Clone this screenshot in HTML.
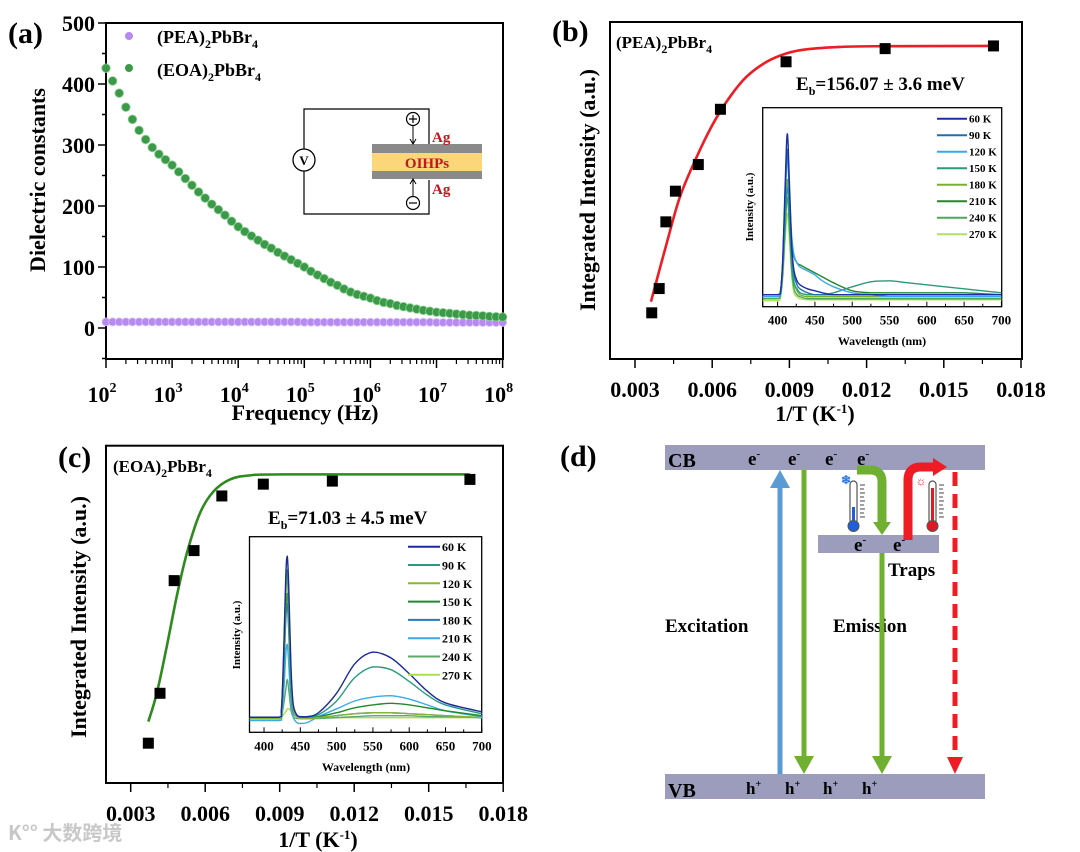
<!DOCTYPE html>
<html><head><meta charset="utf-8"><style>
html,body{margin:0;padding:0;background:#fff;}
svg{display:block;font-family:"Liberation Serif","Noto Serif CJK SC",serif;font-weight:bold;}
</style></head><body>
<svg id="fig" width="1080" height="852" viewBox="0 0 1080 852" xmlns="http://www.w3.org/2000/svg">
<!-- Panel a static -->
<g>
<text x="8" y="43" font-size="30">(a)</text>
<rect x="106" y="23" width="397" height="336" fill="none" stroke="#000" stroke-width="2"/>
<g id="aTicks"></g>
<text transform="translate(45,180) rotate(-90)" text-anchor="middle" font-size="22">Dielectric constants</text>
<text x="305" y="420" text-anchor="middle" font-size="22">Frequency (Hz)</text>
<g>
<circle cx="129" cy="36" r="4" fill="#b68af0"/>
<text x="157" y="43" font-size="18">(PEA)<tspan dy="5" font-size="12">2</tspan><tspan dy="-5">PbBr</tspan><tspan dy="5" font-size="12">4</tspan></text>
<circle cx="129" cy="68" r="4" fill="#3a9a48"/>
<text x="157" y="76" font-size="18">(EOA)<tspan dy="5" font-size="12">2</tspan><tspan dy="-5">PbBr</tspan><tspan dy="5" font-size="12">4</tspan></text>
</g>
<g>
<path d="M413,109 H304 V214 H429 V180 M429,148 V109 H413" fill="none" stroke="#000" stroke-width="1.2"/>
<circle cx="304" cy="160" r="11" fill="#fff" stroke="#000" stroke-width="1.3"/>
<text x="304" y="165" text-anchor="middle" font-size="13">V</text>
<rect x="372" y="144" width="110" height="9" fill="#8a8a8a"/>
<rect x="372" y="153" width="110" height="18" fill="#fbd67a"/>
<rect x="372" y="171" width="110" height="8" fill="#8a8a8a"/>
<text x="427" y="168" text-anchor="middle" font-size="15" fill="#c0161c">OIHPs</text>
<text x="432" y="142" font-size="15" fill="#c0161c">Ag</text>
<text x="432" y="194" font-size="15" fill="#c0161c">Ag</text>
<circle cx="413" cy="119" r="6.5" fill="#fff" stroke="#000" stroke-width="1.2"/>
<path d="M409,119 H417 M413,115 V123" stroke="#000" stroke-width="1.2"/>
<circle cx="413" cy="203" r="6.5" fill="#fff" stroke="#000" stroke-width="1.2"/>
<path d="M409,203 H417" stroke="#000" stroke-width="1.2"/>
<path d="M413,126 V143 M410,139 L413,144 L416,139 M413,196 V180 M410,184 L413,179 L416,184" fill="none" stroke="#000" stroke-width="1"/>
</g>
<g id="aMarks"></g>
</g>

<!-- Panel b static -->
<g>
<text x="552" y="41" font-size="30">(b)</text>
<rect x="610" y="22" width="412" height="337" fill="none" stroke="#000" stroke-width="2"/>
<g id="bTicks"></g>
<text transform="translate(595,190) rotate(-90)" text-anchor="middle" font-size="22">Integrated  Intensity (a.u.)</text>
<text x="815" y="421" text-anchor="middle" font-size="22">1/T (K<tspan dy="-8" font-size="13">-1</tspan><tspan dy="8">)</tspan></text>
<text x="616" y="48" font-size="17">(PEA)<tspan dy="5" font-size="12">2</tspan><tspan dy="-5">PbBr</tspan><tspan dy="5" font-size="12">4</tspan></text>
<text x="796" y="90" font-size="19">E<tspan dy="5" font-size="12">b</tspan><tspan dy="-5">=156.07 ± 3.6 meV</tspan></text>
<rect x="762.7" y="107.7" width="239" height="199" fill="#fff" stroke="#000" stroke-width="1.3"/>
<g id="biTicks"></g>
<text transform="translate(753,207) rotate(-90)" text-anchor="middle" font-size="11">Intensity (a.u.)</text>
<text x="882" y="345" text-anchor="middle" font-size="12">Wavelength (nm)</text>
<g id="bMarks"></g>
</g>

<!-- Panel c static -->
<g>
<text x="58" y="467" font-size="30">(c)</text>
<rect x="106" y="445.7" width="397" height="337.3" fill="none" stroke="#000" stroke-width="2"/>
<g id="cTicks"></g>
<text transform="translate(86,617) rotate(-90)" text-anchor="middle" font-size="22">Integrated  Intensity (a.u.)</text>
<text x="318" y="847" text-anchor="middle" font-size="22">1/T (K<tspan dy="-8" font-size="13">-1</tspan><tspan dy="8">)</tspan></text>
<text x="113" y="472" font-size="17">(EOA)<tspan dy="5" font-size="12">2</tspan><tspan dy="-5">PbBr</tspan><tspan dy="5" font-size="12">4</tspan></text>
<text x="268" y="524" font-size="19">E<tspan dy="5" font-size="12">b</tspan><tspan dy="-5">=71.03 ± 4.5 meV</tspan></text>
<rect x="249.5" y="536.7" width="232.2" height="195.6" fill="#fff" stroke="#000" stroke-width="1.3"/>
<g id="ciTicks"></g>
<text transform="translate(240,635) rotate(-90)" text-anchor="middle" font-size="11">Intensity (a.u.)</text>
<text x="366" y="771" text-anchor="middle" font-size="12">Wavelength (nm)</text>
<g id="cMarks"></g>
</g>

<!-- Panel d -->
<g>
<text x="560" y="466" font-size="30">(d)</text>
<rect x="665" y="445" width="320" height="25" fill="#9c9cbc"/>
<rect x="665" y="774" width="320" height="25" fill="#9c9cbc"/>
<rect x="818" y="535" width="121" height="18" fill="#9c9cbc"/>
<text x="668" y="467" font-size="20">CB</text>
<text x="668" y="797" font-size="20">VB</text>
<g font-size="19">
<text x="748" y="465">e<tspan dy="-8" font-size="11">-</tspan></text>
<text x="788" y="465">e<tspan dy="-8" font-size="11">-</tspan></text>
<text x="825" y="465">e<tspan dy="-8" font-size="11">-</tspan></text>
<text x="857" y="465">e<tspan dy="-8" font-size="11">-</tspan></text>
<text x="854" y="551">e<tspan dy="-8" font-size="11">-</tspan></text>
<text x="893" y="551">e<tspan dy="-8" font-size="11">-</tspan></text>
</g>
<g font-size="17">
<text x="746" y="794">h<tspan dy="-7" font-size="10">+</tspan></text>
<text x="785" y="794">h<tspan dy="-7" font-size="10">+</tspan></text>
<text x="823" y="794">h<tspan dy="-7" font-size="10">+</tspan></text>
<text x="862" y="794">h<tspan dy="-7" font-size="10">+</tspan></text>
</g>
<text x="888" y="576" font-size="19">Traps</text>
<text x="665" y="632" font-size="19">Excitation</text>
<text x="833" y="632" font-size="19">Emission</text>
<g>
<rect x="777.5" y="486" width="5" height="288" fill="#5b9bd5"/>
<polygon points="770,488 780,470 790,488" fill="#5b9bd5"/>
</g>
<g>
<rect x="801.5" y="470" width="5" height="290" fill="#70b030"/>
<polygon points="794,756 804,774 814,756" fill="#70b030"/>
</g>
<g>
<rect x="879.5" y="553" width="5" height="207" fill="#70b030"/>
<polygon points="872,756 882,774 892,756" fill="#70b030"/>
<path d="M857,470 H870 Q882,470 882,482 V524" fill="none" stroke="#70b030" stroke-width="9"/>
<polygon points="873,522 882,535 891,522" fill="#70b030"/>
</g>
<g>
<path d="M908,540 V480 Q908,467 921,467 H935" fill="none" stroke="#ee1c24" stroke-width="9"/>
<polygon points="933,458 947,467 933,476" fill="#ee1c24"/>
</g>
<g>
<line x1="955" y1="472" x2="955" y2="760" stroke="#ee1c24" stroke-width="5" stroke-dasharray="14,8"/>
<polygon points="947,757 955,774 963,757" fill="#ee1c24"/>
</g>
<g>
<rect x="850" y="481" width="7" height="43" rx="3.5" fill="#fff" stroke="#555" stroke-width="1.2"/>
<rect x="852" y="507" width="3" height="18" fill="#1f5fd8"/>
<circle cx="853.5" cy="526" r="5.5" fill="#1f5fd8" stroke="#555" stroke-width="1"/>
<path d="M860,485h5M860,489h4M860,493h5M860,497h4M860,501h5M860,505h4M860,509h5M860,513h4M860,517h5" stroke="#444" stroke-width="1"/>
<text x="846" y="484" text-anchor="middle" font-size="12" fill="#2a7ae0">❄</text>
</g>
<g>
<rect x="929" y="481" width="7" height="43" rx="3.5" fill="#fff" stroke="#555" stroke-width="1.2"/>
<rect x="931" y="488" width="3" height="37" fill="#e01a22"/>
<circle cx="932.5" cy="526" r="5.5" fill="#e01a22" stroke="#555" stroke-width="1"/>
<path d="M939,485h5M939,489h4M939,493h5M939,497h4M939,501h5M939,505h4M939,509h5M939,513h4M939,517h5" stroke="#444" stroke-width="1"/>
<text x="921" y="485" text-anchor="middle" font-size="12" fill="#e01a22">☼</text>
</g>
</g>
<text x="8" y="840" font-size="20" fill="#c8c8c8" font-family="Noto Sans CJK SC, sans-serif">K°° 大数跨境</text>
</svg>
<script>
// ---------- Panel a data ----------
const aLogFreq = [];
for (let i = 0; i <= 60; i++) aLogFreq.push(2 + i * 0.1);
const aEOA = [426,405,385,362,342,324,309,296,285,276,267,256,245,234,223,213,203,194,185,175,166,158,151,144,137,131,124,118,112,106,100,93,87,81,75,70,64,59,55,52,49,45,42,40,37,35,33,31,29,27.5,26,25,24,23,22,21,20.5,20,19,18.5,18];
const aPEA = [10,10,10,10,10,10,10,10,10,10,10,10,10,10,10,10,10,10,10,10,10,10,10,10,10,10,10,10,10,10,9.5,9.5,9.5,9.5,9.5,9.5,9.5,9.5,9.5,9.5,9.5,9.5,9.5,9.5,9.5,9.5,9.5,9.5,9.5,9.5,9,9,9,9,9,9,9,9,9,9,9];
const aYTicks = [0,100,200,300,400,500];
const aXTicks = [2,3,4,5,6,7,8];
// ---------- Panel b data ----------
const bInvT = [0.00365,0.00394,0.0042,0.00457,0.00546,0.00632,0.00887,0.01272,0.01693];
const bIntensity = [0.137,0.209,0.407,0.498,0.577,0.741,0.882,0.921,0.929];
const bFitX = [0.00362,0.00423,0.00475,0.0054,0.00604,0.00669,0.00734,0.00812,0.00889,0.00967,0.01097,0.01226,0.01693];
const bFitY = [0.170,0.343,0.482,0.600,0.699,0.778,0.838,0.882,0.907,0.919,0.926,0.928,0.929];
const invTTicks = [0.003,0.006,0.009,0.012,0.015,0.018];
const invTTickLabels = ["0.003","0.006","0.009","0.012","0.015","0.018"];
const bSpecW = [380,400,404,407,410,413,416,419,422,426,430,440,450,460,475,500,525,550,575,600,650,700];
const bSpecLabels = ["60 K","90 K","120 K","150 K","180 K","210 K","240 K","270 K"];
const bSpecColors = ["#1a2fa8","#1f6fb0","#3aa8e8","#2a9a7a","#7ab030","#1e8a2a","#4aaa5a","#b0e060"];
const bS60  = [6,6,8,25,60,87,60,30,18,13,11,9,8,7,6,6,6,6,6,6,6,6];
const bS90  = [6,6,8,24,55,79,55,28,16,11,9,7,6,6,6,6,6,6,6,6,6,6];
const bS120 = [5,5,7,22,52,75,55,35,26,22,20,18,16,13,10,7,6,5,5,5,5,5];
const bS150 = [5,5,6,18,42,60,42,20,12,9,7,6,6,6,7,10,12.5,13,12,11,9,7];
const bS180 = [5,5,7,20,45,64,45,22,12,8,6,5,5,5,5,5,5,5,5,5,5,5];
const bS210 = [6,6,8,22,46,64,48,32,25,22,21,19,17,15,12,8,7,7,7,7,7,6];
const bS240 = [4,4,6,18,38,55,38,18,9,6,5,4,4,4,4,4,4,4,4,4,4,4];
const bS270 = [3,3,5,15,33,47,32,15,7,5,4,3.5,3.5,3.5,3.5,3.5,3.5,3.5,3.5,3.5,3.5,3.5];
// ---------- Panel c data ----------
const cInvT = [0.00371,0.00418,0.00475,0.00555,0.00667,0.00834,0.01112,0.01666];
const cIntensity = [0.118,0.266,0.600,0.689,0.851,0.886,0.895,0.900];
const cFitX = [0.00371,0.00405,0.00445,0.00485,0.00526,0.00579,0.00633,0.00700,0.00780,0.00915,0.01666];
const cFitY = [0.182,0.266,0.404,0.552,0.681,0.800,0.864,0.900,0.912,0.915,0.915];
const cSpecW = [380,420,424,427,430,432,434,437,440,445,450,460,475,500,525,550,575,600,625,650,700];
const cSpecLabels = ["60 K","90 K","120 K","150 K","180 K","210 K","240 K","270 K"];
const cSpecColors = ["#1b2a9a","#2a9a80","#8ab43a","#1e8a2a","#2a7ab8","#3aaae8","#5aaa6a","#a8e050"];
const cS60  = [7.7,7.7,12,40,80,90,75,35,15,9,8,8,10,20,35,41,38,30,21,15,10.5];
const cS90  = [7.7,7.7,11,38,75,83,68,32,14,9,8,8,9,16,28,33.5,32,26,19,14,9.5];
const cS120 = [7,7,10,35,70,79.5,62,28,12,8,7,7,7.5,8.5,9.5,10,10,9.5,9,8.5,7.5];
const cS150 = [7,7,10,32,62,71,56,26,12,8,7.5,7.5,8,10,12.5,14,14.8,14,12.5,11,8.5];
const cS180 = [7,7,10,30,58,66,52,24,11,8,7,7,7.5,8.5,9.5,10,10,9.5,9,8.5,7.5];
const cS210 = [6,6,8,20,40,45,35,16,8,5,4.5,5,8,12,16,18,18.7,17,14,11,8];
const cS240 = [7,7,8,14,22,27,22,12,8,7,7,7,7,7.5,8,8.5,8.5,8.5,8,8,7.5];
const cS270 = [7,7,8,9,10.5,12,12,11,9,8,7.5,7.5,7.5,7.5,7.5,7.5,7.5,7.5,7.5,7.5,7.5];
const wlTicks = [400,450,500,550,600,650,700];

const NS = "http://www.w3.org/2000/svg";
function mk(tag, attrs, parent) {
  const el = document.createElementNS(NS, tag);
  for (const k in attrs) el.setAttribute(k, attrs[k]);
  parent.appendChild(el);
  return el;
}
function clampY(c, a, b) { const lo = Math.min(a, b), hi = Math.max(a, b); return Math.max(lo, Math.min(hi, c)); }
function smooth(pts) {
  let d = "M" + pts[0][0].toFixed(2) + "," + pts[0][1].toFixed(2);
  for (let i = 0; i < pts.length - 1; i++) {
    const p0 = pts[Math.max(0, i - 1)], p1 = pts[i], p2 = pts[i + 1], p3 = pts[Math.min(pts.length - 1, i + 2)];
    const c1x = p1[0] + (p2[0] - p0[0]) / 6, c1y = clampY(p1[1] + (p2[1] - p0[1]) / 6, p1[1], p2[1]);
    const c2x = p2[0] - (p3[0] - p1[0]) / 6, c2y = clampY(p2[1] - (p3[1] - p1[1]) / 6, p1[1], p2[1]);
    d += "C" + c1x.toFixed(2) + "," + c1y.toFixed(2) + " " + c2x.toFixed(2) + "," + c2y.toFixed(2) + " " + p2[0].toFixed(2) + "," + p2[1].toFixed(2);
  }
  return d;
}

// scales
const xa = lf => 106 + (lf - 2) * 66.1;
const ya = v => 328 - v * 0.61;
const xb = t => 635 + (t - 0.003) / 0.003 * 77.2;
const yb = v => 359 - v * 337;
const xib = w => 762.7 + (w - 380) * 0.746;
const yib = i => 306.7 - i * 1.99;
const xc = t => 130.7 + (t - 0.003) / 0.003 * 74.5;
const yc = v => 783 - v * 337.3;
const xic = w => 249.5 + (w - 380) * 0.726;
const yic = i => 732.3 - i * 1.956;

// ---- Panel a ticks ----
const aT = document.getElementById("aTicks");
for (let v = -50; v <= 500; v += 50) {
  const major = v % 100 === 0;
  const t = mk("line", {x1: 106, x2: major ? 98 : 102, y1: ya(v), y2: ya(v), stroke: "#000", "stroke-width": 1.5}, aT);
  
  
}
aYTicks.forEach(v => {
  const t = mk("text", {x: 95, y: ya(v) + 8, "text-anchor": "end", "font-size": 22}, aT);
  
  
  t.textContent = v;
});
aXTicks.forEach(d => {
  const t = mk("line", {x1: xa(d), x2: xa(d), y1: 359, y2: 368, stroke: "#000", "stroke-width": 1.5}, aT);
  
  
  if (d < 8) for (let m = 2; m <= 9; m++) {
    const xm = xa(d + Math.log10(m));
    const mt = mk("line", {x1: xm, x2: xm, y1: 359, y2: 364, stroke: "#000", "stroke-width": 1.2}, aT);
    
    
  }
  const lb = mk("text", {x: xa(d) - 4, y: 402, "text-anchor": "middle", "font-size": 22}, aT);
  
  
  lb.innerHTML = '10<tspan dy="-10" font-size="14">' + d + '</tspan>';
});
// ---- Panel a marks ----
const aM = document.getElementById("aMarks");
aLogFreq.forEach((lf, i) => {
  const c = mk("circle", {cx: xa(lf), cy: ya(aPEA[i]), r: 4, fill: "#b68af0", stroke: "#d8c0ff", "stroke-width": 0.8}, aM);
  
  
});
aLogFreq.forEach((lf, i) => {
  const c = mk("circle", {cx: xa(lf), cy: ya(aEOA[i]), r: 4.3, fill: "#3a9a48", stroke: "#8fcf95", "stroke-width": 0.8}, aM);
  
  
});

// ---- 1/T axes ----
function invTAxis(g, xs, yBottom) {
  for (let k = 0; k < invTTicks.length; k++) {
    const t = invTTicks[k];
    const tk = mk("line", {x1: xs(t), x2: xs(t), y1: yBottom, y2: yBottom + 9, stroke: "#000", "stroke-width": 1.5}, g);
    
    
    if (k < invTTicks.length - 1) {
      const xm = xs(t + 0.0015);
      const mt = mk("line", {x1: xm, x2: xm, y1: yBottom, y2: yBottom + 5, stroke: "#000", "stroke-width": 1.2}, g);
      
      
    }
    const lb = mk("text", {x: xs(t), y: yBottom + 38, "text-anchor": "middle", "font-size": 22}, g);
    
    
    lb.textContent = invTTickLabels[k];
  }
}
invTAxis(document.getElementById("bTicks"), xb, 359);
invTAxis(document.getElementById("cTicks"), xc, 783);

function wlAxis(g, xs, yBottom) {
  for (let w = 400; w <= 700; w += 25) {
    const major = w % 50 === 0;
    const tk = mk("line", {x1: xs(w), x2: xs(w), y1: yBottom, y2: yBottom - (major ? 5 : 3), stroke: "#000", "stroke-width": 1}, g);
    
    
  }
  wlTicks.forEach(w => {
    const lb = mk("text", {x: xs(w), y: yBottom + 18, "text-anchor": "middle", "font-size": 13}, g);
    
    
    lb.textContent = w;
  });
}
wlAxis(document.getElementById("biTicks"), xib, 306.7);
wlAxis(document.getElementById("ciTicks"), xic, 732.3);

// ---- Panel b marks ----
const bM = document.getElementById("bMarks");
const bSeries = [bS60,bS90,bS120,bS150,bS180,bS210,bS240,bS270];
bSeries.slice().reverse().forEach((s, ri) => {
  const i = bSeries.length - 1 - ri;
  const p = mk("path", {d: smooth(bSpecW.map((w, j) => [xib(w), yib(s[j])])), fill: "none", stroke: bSpecColors[i], "stroke-width": 1.4}, bM);
  
  
});
bSpecLabels.forEach((lab, i) => {
  const yy = 118.7 + i * 16.5;
  const l = mk("line", {x1: 937, x2: 967, y1: yy, y2: yy, stroke: bSpecColors[i], "stroke-width": 2}, bM);
  
  
  const t = mk("text", {x: 969, y: yy + 4, "font-size": 11}, bM);
  
  
  t.textContent = lab;
});
const bFit = mk("path", {d: smooth(bFitX.map((x, j) => [xb(x), yb(bFitY[j])])), fill: "none", stroke: "#ee1c24", "stroke-width": 2.6}, bM);


bInvT.forEach((x, i) => {
  const r = mk("rect", {x: xb(x) - 5.5, y: yb(bIntensity[i]) - 5.5, width: 11, height: 11, fill: "#000"}, bM);
  
  
});

// ---- Panel c marks ----
const cM = document.getElementById("cMarks");
const cSeries = [cS60,cS90,cS120,cS150,cS180,cS210,cS240,cS270];
cSeries.slice().reverse().forEach((s, ri) => {
  const i = cSeries.length - 1 - ri;
  const p = mk("path", {d: smooth(cSpecW.map((w, j) => [xic(w), yic(s[j])])), fill: "none", stroke: cSpecColors[i], "stroke-width": 1.4}, cM);
  
  
});
cSpecLabels.forEach((lab, i) => {
  const yy = 546.7 + i * 18.3;
  const l = mk("line", {x1: 408, x2: 440, y1: yy, y2: yy, stroke: cSpecColors[i], "stroke-width": 2}, cM);
  
  
  const t = mk("text", {x: 442, y: yy + 4.5, "font-size": 12}, cM);
  
  
  t.textContent = lab;
});
const cFit = mk("path", {d: smooth(cFitX.map((x, j) => [xc(x), yc(cFitY[j])])), fill: "none", stroke: "#2f8a1e", "stroke-width": 2.6}, cM);


cInvT.forEach((x, i) => {
  const r = mk("rect", {x: xc(x) - 5.5, y: yc(cIntensity[i]) - 5.5, width: 11, height: 11, fill: "#000"}, cM);
  
  
});
</script>
</body></html>
